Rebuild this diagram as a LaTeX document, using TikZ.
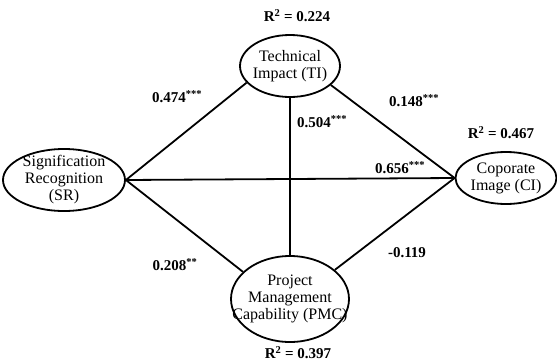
\documentclass[tikz,border=0pt]{standalone}
\usepackage{fontspec}
\setmainfont{Liberation Serif}
\usetikzlibrary{shapes.geometric}
\tikzset{
    construct/.style={ellipse, draw=black, line width=1.8pt, inner xsep=-20pt, inner ysep=-5pt,
        align=center, font=\fontsize{16}{17}\selectfont},
    link/.style={line width=1.8pt},
    coef/.style={font=\fontsize{15}{17}\selectfont\bfseries},
}
\newcommand{\stars}[1]{\textsuperscript{#1}}

\begin{document}
\begin{tikzpicture}[x=1pt, y=-1pt]
    \useasboundingbox (0,0) rectangle (557,362);

    % Constructs
    \node[construct, minimum width=100pt, minimum height=62pt] (ti) at (290,66) {Technical\\Impact (TI)};
    \node[construct, minimum width=122pt, minimum height=62pt] (sr) at (64,180) {Signification\\Recognition\\(SR)};
    \node[construct, minimum width=101pt, minimum height=52pt] (ci) at (506,178) {Coporate\\Image (CI)};
    \node[construct, minimum width=118pt, minimum height=86pt] (pmc) at (290,299) {Project\\Management\\Capability (PMC)};

    % R squared values
    \node[coef] (r-ti) at (297,16) {R\stars{2} = 0.224};
    \node[coef] (r-ci) at (501,133) {R\stars{2} = 0.467};
    \node[coef] (r-pmc) at (298,353) {R\stars{2} = 0.397};

    % Paths between constructs
    \foreach \from/\to in {sr.east/ti.201, sr.east/ci.west, sr.east/pmc.150,
                           ti.south/pmc.north, ti.335/ci.west, pmc.33/ci.west}
        \draw[link] (\from) -- (\to);

    % Path coefficients
    \node[coef] (b-sr-ti) at (177,97) {0.474\stars{***}};
    \node[coef] (b-ti-pmc) at (322,122) {0.504\stars{***}};
    \node[coef] (b-ti-ci) at (414,101) {0.148\stars{***}};
    \node[coef] (b-sr-ci) at (400,168) {0.656\stars{***}};
    \node[coef] (b-sr-pmc) at (175,265) {0.208\stars{**}};
    \node[coef] (b-pmc-ci) at (407,253) {-0.119};
\end{tikzpicture}
\end{document}
